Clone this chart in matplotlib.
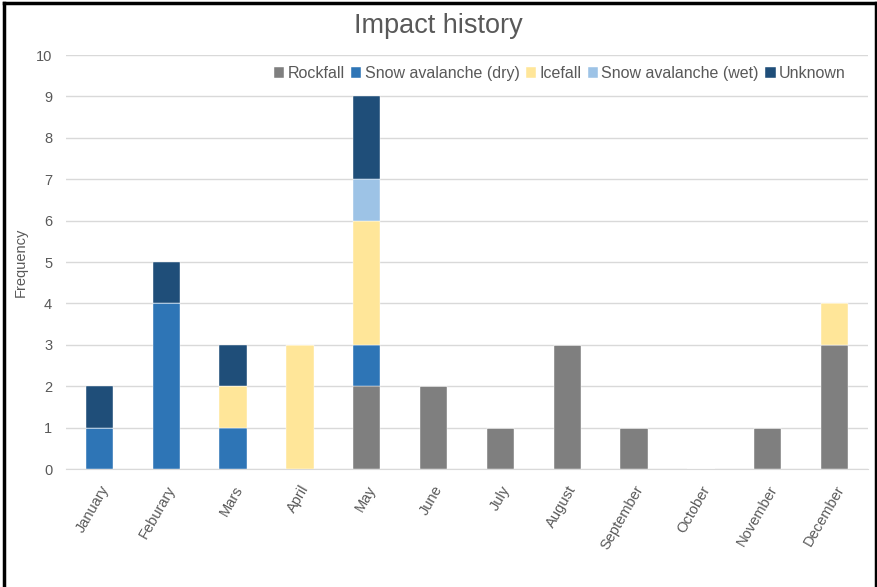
import numpy as np
import matplotlib
matplotlib.use("Agg")
import matplotlib.pyplot as plt
from matplotlib.lines import Line2D

plt.rcParams['font.family'] = ['Liberation Sans', 'DejaVu Sans']

months = ["January", "Feburary", "Mars", "April", "May", "June", "July",
          "August", "September", "October", "November", "December"]

rockfall    = [0, 0, 0, 0, 2, 2, 1, 3, 1, 0, 1, 3]
snow_dry    = [1, 4, 1, 0, 1, 0, 0, 0, 0, 0, 0, 0]
icefall     = [0, 0, 1, 3, 3, 0, 0, 0, 0, 0, 0, 1]
snow_wet    = [0, 0, 0, 0, 1, 0, 0, 0, 0, 0, 0, 0]
unknown     = [1, 1, 1, 0, 2, 0, 0, 0, 0, 0, 0, 0]

series = [
    ("Rockfall", rockfall, "#7F7F7F"),
    ("Snow avalanche (dry)", snow_dry, "#2E75B6"),
    ("Icefall", icefall, "#FFE699"),
    ("Snow avalanche (wet)", snow_wet, "#9DC3E6"),
    ("Unknown", unknown, "#1F4E79"),
]

text_col = "#595959"
grid_col = "#D9D9D9"

fig = plt.figure(figsize=(8.77, 5.87), dpi=100)
ax = fig.add_axes([0.0753, 0.201, 0.9144, 0.7053])

x = np.arange(len(months))
bottom = np.zeros(len(months))
for name, vals, col in series:
    v = np.array(vals, dtype=float)
    ax.bar(x, v, width=0.41, bottom=bottom, color=col, label=name,
           edgecolor="white", linewidth=0.3, zorder=3)
    bottom += v

ax.set_xlim(-0.5, len(months) - 0.5)
ax.set_ylim(0, 10)
ax.set_yticks(range(0, 11))
ax.grid(axis="y", color=grid_col, linewidth=1, zorder=0)
for s in ["top", "right", "left"]:
    ax.spines[s].set_visible(False)
ax.spines["bottom"].set_color(grid_col)
ax.tick_params(axis="both", length=0, colors=text_col, labelsize=10.5)
ax.tick_params(axis="y", pad=10)
ax.set_xticks(x)
ax.set_xticklabels(months, rotation=60, ha="right", rotation_mode="anchor")
ax.tick_params(axis="x", pad=10)

ax.set_ylabel("Frequency", color=text_col, fontsize=10.5, labelpad=6)
fig.text(0.5, 0.956, "Impact history", ha="center", va="center",
         fontsize=19.5, color=text_col)

leg = ax.legend(loc="upper right", bbox_to_anchor=(0.99, 1.008), ncol=5,
                frameon=False, handlelength=0.65, handleheight=0.65,
                handletextpad=0.2, columnspacing=0.4, fontsize=11.5,
                labelcolor=text_col)

# outer frame lines
for xs, ys in [([0.005, 0.005], [0.0, 0.995]),
               ([0.005, 0.9985], [0.995, 0.995]),
               ([0.9985, 0.9985], [0.0, 0.995])]:
    fig.add_artist(Line2D(xs, ys, transform=fig.transFigure, color="black",
                          linewidth=2.5))

fig.savefig("out.png", dpi=100)
